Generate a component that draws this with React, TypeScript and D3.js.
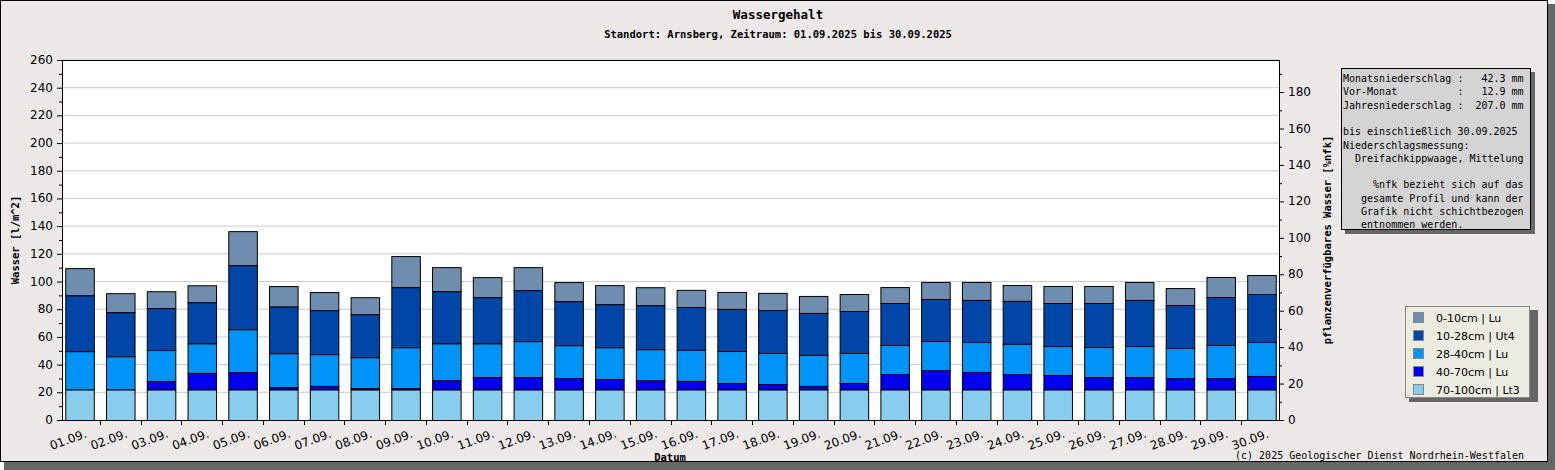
import { scaleBand, scaleLinear, range } from 'd3';

const days = range(1, 31).map(d => `${String(d).padStart(2, '0')}.09.`);
// cumulative tops per layer
const top70 = Array(30).fill(22);
const top40 = [22, 22, 28, 34, 34.5, 23.7, 24.6, 22.9, 23, 28.7, 31, 31, 30.3, 29.6, 28.6, 28.2, 26.7, 26, 24.6, 26.7, 33.2, 36, 34.7, 33.2, 32.5, 31, 31, 30.3, 30.3, 31.8];
const top28 = [49.7, 46, 50.5, 55.3, 65.5, 48.2, 47.5, 45.3, 52.5, 55.3, 55.3, 56.9, 54, 52.5, 51.1, 50.6, 49.8, 48.4, 47, 48.4, 54.2, 57, 56.3, 55, 53.4, 52.7, 53.4, 52, 54.2, 56.3];
const top10 = [90, 77.8, 80.8, 85, 111.8, 81.9, 79.3, 76.4, 95.9, 93, 88.7, 93.8, 85.8, 83.6, 82.9, 81.6, 80.2, 79.4, 77.3, 78.7, 84.5, 87.4, 86.7, 86, 84.5, 84.5, 86.7, 83, 88.8, 91];
const top0 = [109.7, 91.6, 93, 97.3, 136.4, 96.7, 92.4, 88.7, 118.4, 110.4, 103.2, 110.4, 99.6, 97.4, 95.9, 94, 92.5, 91.8, 89.6, 91, 96, 99.7, 99.7, 97.5, 96.8, 96.8, 99.7, 95.3, 103.3, 104.7];

const layers = [
  { label: '0-10cm | Lu', color: '#6f8dae', lo: top10, hi: top0 },
  { label: '10-28cm | Ut4', color: '#0046a8', lo: top28, hi: top10 },
  { label: '28-40cm | Lu', color: '#0094f8', lo: top40, hi: top28 },
  { label: '40-70cm | Lu', color: '#0000f0', lo: top70, hi: top40 },
  { label: '70-100cm | Lt3', color: '#88cdee', lo: Array(30).fill(0), hi: top70 },
];

const leftTicks = range(0, 261, 20);
const rightTicks = range(0, 181, 20);
const infoLines = [
  'Monatsniederschlag :   42.3 mm',
  'Vor-Monat          :   12.9 mm',
  'Jahresniederschlag :  207.0 mm',
  '',
  'bis einschließlich 30.09.2025',
  'Niederschlagsmessung:',
  '  Dreifachkippwaage, Mittelung',
  '',
  '     %nfk bezieht sich auf das',
  '   gesamte Profil und kann der',
  '   Grafik nicht schichtbezogen',
  '   entnommen werden.',
];

const W = 1555, H = 470;
const m = { left: 62, right: 1279, top: 60, bottom: 420 };
const mono = '"DejaVu Sans Mono", monospace';
const sans = '"DejaVu Sans", sans-serif';

export default function App() {
  const x = scaleBand<string>().domain(days).range([m.left, m.right]).paddingInner(0.3).paddingOuter(0.08);
  const y = scaleLinear().domain([0, 260]).range([m.bottom, m.top]);
  const y2 = scaleLinear().domain([0, 197.6]).range([m.bottom, m.top]);

  return (
    <svg width={W} height={H} style={{ position: 'absolute', left: 0, top: 0 }}>
      <rect x={4} y={4} width={W - 4} height={H - 4} fill="#666" />
      <rect x={0.5} y={0.5} width={W - 8} height={H - 9} fill="#ece9e8" stroke="#000" />
      <text x={778} y={19} textAnchor="middle" fontFamily={mono} fontSize={12.5} fontWeight="bold">Wassergehalt</text>
      <text x={778} y={38} textAnchor="middle" fontFamily={mono} fontSize={10.5} fontWeight="bold">Standort: Arnsberg, Zeitraum: 01.09.2025 bis 30.09.2025</text>

      <rect x={m.left} y={m.top} width={m.right - m.left} height={m.bottom - m.top} fill="#fff" />
      {leftTicks.slice(1).map(t => (
        <line key={t} x1={m.left} x2={m.right} y1={y(t)} y2={y(t)} stroke="#ccc" />
      ))}

      {days.map((d, i) => {
        const bx = x(d) ?? 0;
        return (
          <g key={d}>
            {layers.map(l => (
              l.hi[i] - l.lo[i] > 0.05 ? (
                <rect key={l.label} x={bx + 0.5} y={y(l.hi[i]) + 0.5} width={x.bandwidth()} height={y(l.lo[i]) - y(l.hi[i])} fill={l.color} stroke="#000" strokeWidth={1} />
              ) : null
            ))}
          </g>
        );
      })}

      <rect x={m.left + 0.5} y={m.top + 0.5} width={m.right - m.left} height={m.bottom - m.top} fill="none" stroke="#000" />

      {leftTicks.map(t => (
        <g key={t}>
          <line x1={m.left - 5} x2={m.left} y1={y(t) + 0.5} y2={y(t) + 0.5} stroke="#000" />
          <text x={m.left - 9} y={y(t) + 4} textAnchor="end" fontFamily={sans} fontSize={12}>{t}</text>
        </g>
      ))}
      {range(10, 260, 20).map(t => (
        <line key={t} x1={m.left - 3} x2={m.left} y1={y(t) + 0.5} y2={y(t) + 0.5} stroke="#000" />
      ))}
      {rightTicks.map(t => (
        <g key={t}>
          <line x1={m.right} x2={m.right + 5} y1={y2(t) + 0.5} y2={y2(t) + 0.5} stroke="#000" />
          <text x={m.right + 9} y={y2(t) + 4} fontFamily={sans} fontSize={12}>{t}</text>
        </g>
      ))}
      {range(10, 197, 20).map(t => (
        <line key={t} x1={m.right} x2={m.right + 3} y1={y2(t) + 0.5} y2={y2(t) + 0.5} stroke="#000" />
      ))}

      {days.map((d, i) => {
        const bx = x(d) ?? 0;
        const edge = bx - (x.step() - x.bandwidth()) / 2;
        return (
          <g key={d}>
            {i > 0 && <line x1={Math.round(edge) + 0.5} x2={Math.round(edge) + 0.5} y1={m.bottom} y2={m.bottom + 5} stroke="#000" />}
            <text transform={`translate(${bx + x.bandwidth() / 2 + 8},${m.bottom + 17}) rotate(-20)`} textAnchor="end" fontFamily={sans} fontSize={12}>{d}</text>
          </g>
        );
      })}

      <text x={670} y={461} textAnchor="middle" fontFamily={mono} fontSize={10.5} fontWeight="bold">Datum</text>
      <text transform={`translate(19,240) rotate(-90)`} textAnchor="middle" fontFamily={mono} fontSize={10.5} fontWeight="bold">Wasser [l/m^2]</text>
      <text transform={`translate(1331,240) rotate(-90)`} textAnchor="middle" fontFamily={mono} fontSize={10.5} fontWeight="bold">pflanzenverfügbares Wasser [%nfk]</text>
      <text x={1524} y={459} textAnchor="end" fontFamily={mono} fontSize={10}>(c) 2025 Geologischer Dienst Nordrhein-Westfalen</text>

      <rect x={1345} y={72} width={190} height={162} fill="#666" />
      <rect x={1341.5} y={68.5} width={189} height={161} fill="#d4d4d4" stroke="#000" />
      {infoLines.map((t, i) => (
        <text key={i} x={1343} y={82 + i * 13.3} fontFamily={mono} fontSize={10} style={{ whiteSpace: 'pre' }}>{t}</text>
      ))}

      <rect x={1409} y={310} width={129} height={92} fill="#666" />
      <rect x={1405.5} y={306.5} width={124} height={91} fill="#ecece0" stroke="#888" />
      {layers.map((l, i) => (
        <g key={l.label}>
          <rect x={1413.5} y={312.5 + i * 18} width={10} height={10} fill={l.color} stroke="#888" />
          <text x={1436} y={322 + i * 18} fontFamily={sans} fontSize={11}>{l.label}</text>
        </g>
      ))}
    </svg>
  );
}
